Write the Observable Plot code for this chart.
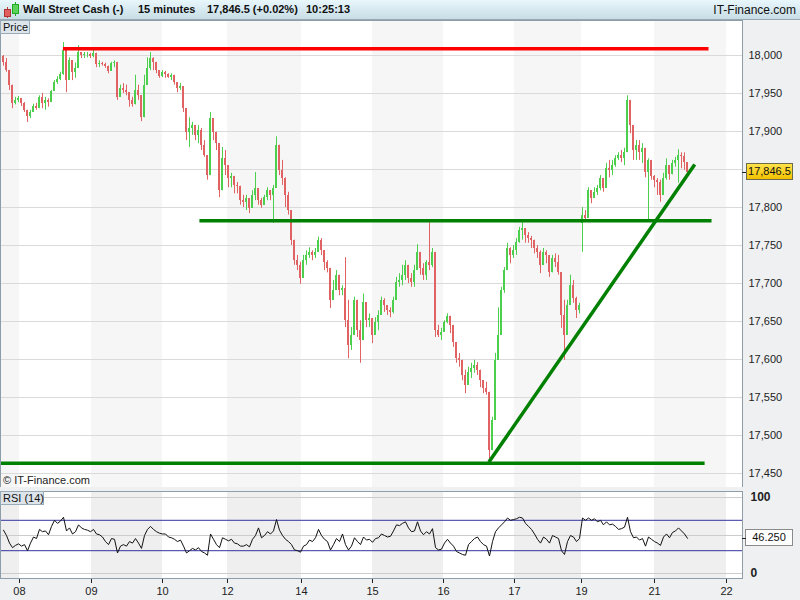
<!DOCTYPE html>
<html><head><meta charset="utf-8">
<script src="https://cdn.jsdelivr.net/npm/d3@7"></script>
<script src="https://cdn.jsdelivr.net/npm/@observablehq/plot@0.6"></script>
<style>
html,body{margin:0;padding:0;}
body{width:800px;height:600px;position:relative;overflow:hidden;background:#eef0f2;font-family:"Liberation Sans",Arial,sans-serif;color:#111;}
#header{position:absolute;left:0;top:0;width:800px;height:19px;background:linear-gradient(#e8f7fc,#c8dde5);border-bottom:1px solid #98a8b2;}
.h{position:absolute;top:3px;font-size:11px;font-weight:bold;white-space:nowrap;color:#111;}
#brand{position:absolute;right:4px;top:3px;font-size:12px;white-space:nowrap;color:#111;}
.panel{position:absolute;left:0;}
.tag{position:absolute;font-size:11px;box-sizing:border-box;white-space:nowrap;}
#priceLabel{left:0;top:20px;width:30px;height:14px;background:#dde5eb;border:1px solid #9aabb8;padding-left:2px;line-height:12px;}
#rsiLabel{left:0;top:491px;width:44px;height:14px;background:#dde5eb;border:1px solid #9aabb8;padding-left:2px;line-height:12px;}
#copy{position:absolute;left:3px;top:474px;font-size:11px;color:#222;}
#lastPrice{left:746px;width:47px;height:17px;background:linear-gradient(#ffe24a,#f2c200);border:1px solid #6b6b4a;text-align:center;line-height:15px;color:#111;}
#lastRsi{left:745px;width:48px;height:17px;background:#fff;border:1px solid #8a8a8a;text-align:center;line-height:15px;color:#111;}
.dash{position:absolute;left:742px;width:4px;height:1px;background:#222;}
</style></head>
<body>
<div id="header">
  <svg style="position:absolute;left:3px;top:1px" width="16" height="18">
    <line x1="4.5" y1="6" x2="4.5" y2="17" stroke="#c33"/><rect x="1.5" y="8.5" width="6" height="7" fill="#e06060" stroke="#a33"/>
    <line x1="12.5" y1="1" x2="12.5" y2="15" stroke="#2a2"/><rect x="9.5" y="3.5" width="6" height="9" fill="#5bd25b" stroke="#2a2"/>
  </svg>
  <span class="h" id="t1" style="left:23px"></span>
  <span class="h" id="t2" style="left:138px"></span>
  <span class="h" id="t3" style="left:207px"></span>
  <span class="h" id="t4" style="left:306px"></span>
  <span id="brand"></span>
</div>
<div class="panel" id="pricePanel" style="top:20px"></div>
<div class="panel" id="rsiPanel" style="top:488px"></div>
<div class="tag" id="priceLabel">Price</div>
<div class="tag" id="rsiLabel">RSI (14)</div>
<div id="copy">© IT-Finance.com</div>
<div class="tag" id="lastPrice"></div>
<div class="dash" id="dashPrice"></div>
<div class="tag" id="lastRsi"></div>
<div class="dash" id="dashRsi"></div>
<script>
// ---- header texts ----
const instrument = "Wall Street Cash (-)";
const period = "15 minutes";
const quote = "17,846.5 (+0.02%)";
const clock = "10:25:13";
const brand = "IT-Finance.com";

// ---- price candles (15-minute bars) ----
const firstOpen = 17999;
const closes = [
17991,17980,17961,17937,17941,17943,17937,17928,17920,17925,
17933,17930,17945,17937,17941,17938,17953,17964,17968,17975,
18007,17967,17993,17978,17983,18004,18000,18001,18001,17999,
18003,17988,17990,17988,17986,17979,17990,17991,17945,17957,
17954,17951,17941,17936,17954,17947,17918,17961,17983,17996,
17991,17980,17972,17978,17975,17971,17974,17964,17957,17959,
17930,17899,17904,17908,17895,17901,17882,17868,17842,17917,
17899,17884,17822,17864,17855,17838,17841,17829,17828,17809,
17807,17812,17799,17816,17825,17809,17803,17813,17822,17816,
17825,17882,17849,17838,17816,17796,17757,17730,17724,17707,
17730,17737,17741,17737,17741,17757,17743,17728,17720,17678,
17691,17711,17691,17693,17651,17618,17632,17678,17638,17625,
17675,17651,17654,17632,17649,17658,17678,17671,17664,17662,
17678,17701,17704,17711,17724,17707,17701,17717,17741,17720,
17711,17728,17724,17741,17638,17632,17636,17649,17657,17645,
17622,17601,17599,17579,17566,17583,17588,17592,17586,17572,
17562,17557,17480,17520,17599,17632,17691,17717,17746,17737,
17743,17754,17770,17772,17763,17759,17757,17746,17741,17724,
17741,17737,17714,17733,17728,17714,17658,17632,17671,17697,
17680,17664,17671,17789,17786,17822,17812,17820,17825,17838,
17825,17851,17849,17855,17864,17868,17864,17872,17941,17908,
17875,17882,17872,17878,17846,17862,17841,17836,17833,17816,
17838,17855,17843,17858,17862,17868,17867,17859,17846.5];
const highs = [
18000,17996,17980,17961,17945,17946,17943,17938,17928,17928,
17936,17937,17947,17950,17945,17943,17954,17967,17972,17978,
18017,18007,17997,17993,17990,18013,18004,18004,18004,18003,
18009,18003,17993,17991,17990,17986,17991,17993,17991,17961,
17963,17961,17951,17945,17974,17961,17947,17974,17997,18004,
17997,17991,17980,17980,17979,17976,17976,17974,17964,17963,
17959,17930,17918,17912,17908,17908,17904,17888,17868,17925,
17917,17899,17884,17879,17875,17855,17845,17841,17833,17828,
17816,17816,17812,17822,17846,17825,17812,17816,17826,17822,
17829,17893,17882,17862,17839,17820,17796,17757,17737,17728,
17737,17743,17747,17743,17746,17761,17759,17743,17730,17720,
17704,17717,17711,17697,17734,17678,17642,17682,17678,17651,
17686,17675,17660,17654,17655,17664,17682,17680,17671,17668,
17682,17708,17713,17724,17730,17724,17713,17724,17751,17741,
17726,17730,17780,17746,17741,17645,17641,17651,17660,17657,
17645,17622,17608,17599,17586,17590,17595,17599,17596,17586,
17572,17570,17557,17524,17608,17668,17695,17721,17753,17747,
17750,17759,17774,17780,17772,17767,17762,17757,17750,17743,
17746,17743,17737,17737,17739,17737,17714,17678,17678,17711,
17704,17682,17674,17800,17796,17826,17822,17826,17829,17842,
17838,17858,17862,17862,17868,17872,17875,17878,17947,17941,
17908,17888,17888,17884,17878,17864,17862,17842,17838,17836,
17845,17864,17855,17862,17866,17876,17872,17872,17859];
const lows = [
17986,17978,17954,17930,17935,17938,17933,17925,17912,17917,
17925,17928,17930,17930,17928,17932,17938,17953,17962,17967,
17974,17951,17967,17967,17970,17983,17996,17996,17997,17996,
17997,17984,17984,17986,17983,17976,17979,17984,17941,17945,
17950,17947,17932,17932,17935,17941,17913,17918,17961,17980,
17980,17976,17970,17971,17970,17970,17967,17961,17951,17954,
17925,17888,17879,17895,17888,17884,17875,17866,17836,17842,
17888,17875,17813,17822,17842,17826,17826,17818,17818,17803,
17800,17796,17792,17799,17809,17803,17799,17803,17809,17809,
17779,17825,17842,17829,17800,17790,17750,17724,17717,17699,
17707,17724,17733,17730,17733,17741,17737,17717,17714,17667,
17678,17691,17684,17684,17642,17601,17612,17632,17629,17595,
17625,17642,17642,17621,17632,17638,17658,17662,17658,17655,
17660,17678,17695,17697,17704,17700,17695,17695,17717,17711,
17704,17704,17717,17721,17629,17629,17625,17636,17647,17634,
17616,17595,17590,17572,17555,17566,17575,17582,17579,17563,
17555,17553,17467,17480,17520,17599,17632,17687,17717,17726,
17733,17737,17753,17757,17753,17753,17746,17739,17733,17713,
17724,17726,17708,17714,17721,17711,17641,17599,17632,17671,
17674,17654,17660,17741,17783,17786,17805,17812,17816,17822,
17820,17825,17839,17842,17853,17862,17859,17855,17872,17897,
17862,17862,17862,17858,17839,17783,17836,17826,17816,17807,
17816,17836,17836,17843,17853,17832,17851,17849,17846];
// bars that opened with a gap (open differs from previous close)
const gapBar = [193];
const gapOpen = [17779];

// ---- RSI (14), one value per bar ----
const rsiValues = [
57,50,40,34,37,39,36,38,30,40,
48,46,58,55,56,51,62,70,66,69,
74,56,60,52,55,64,60,58,57,55,
58,52,51,48,42,38,46,45,27,36,
38,36,42,40,46,40,33,50,58,62,
58,55,53,52,52,48,47,45,42,44,
36,27,30,33,31,34,29,27,24,52,
45,38,34,47,45,43,45,40,39,36,
36,38,35,45,50,60,47,50,55,52,
56,71,57,50,45,42,38,31,30,28,
36,38,44,42,47,58,50,45,42,31,
38,46,42,52,38,31,36,47,42,38,
48,44,45,41,46,47,52,50,48,49,
56,64,63,66,68,60,55,56,68,56,
51,55,52,59,34,31,32,40,45,40,
36,29,27,25,24,38,42,46,48,42,
38,36,23,42,55,60,64,68,73,70,
71,72,74,73,66,62,58,52,45,40,
48,45,40,50,48,46,30,25,42,50,
48,42,46,73,70,73,70,72,68,70,
64,68,64,65,62,58,59,61,74,55,
47,48,44,46,36,48,45,42,40,37,
48,52,47,54,56,60,56,52,46.25];
const rsiLevels = [30, 70];
const rsiGrid = [0, 50, 100];
const rsiAxisTicks = [0, 100];

// ---- time axis: bar index where each day starts ----
const dayLabels = ["08","09","10","12","14","15","16","17","19","21","22"];
const dayStartBar = [5.33, 29.33, 53, 74.67, 99.33, 123, 146.67, 170.33, 192.67, 217, 241];

// ---- price axis (17,850 label is hidden by the last-price tag) ----
const priceGridTicks = [17450,17500,17550,17600,17650,17700,17750,17800,17850,17900,17950,18000];
const priceLabelTicks = [17450,17500,17550,17600,17650,17700,17750,17800,17900,17950,18000];

// ---- drawn trend lines (bar index, price) ----
const trendType      = ["resistance","support","support","trend"];
const trendFromBar   = [19.8, 65.3, -1, 161.8];
const trendFromPrice = [18009, 17782.5, 17463.6, 17465];
const trendToBar     = [235, 236, 233.7, 230.4];
const trendToPrice   = [18009, 17782.5, 17463.6, 17856.6];

// ================= build =================
document.getElementById("t1").textContent = instrument;
document.getElementById("t2").textContent = period;
document.getElementById("t3").textContent = quote;
document.getElementById("t4").textContent = clock;
document.getElementById("brand").textContent = brand;

const X_DOMAIN = [-1, 246.33];
const PRICE_DOMAIN = [17431.6, 18046.05];
const RSI_DOMAIN = [-6.58, 107.89];
const GREEN = "#4ccf4c", RED = "#e06262";
const FONT = "'Liberation Sans', Arial, sans-serif";

const gapMap = new Map(gapBar.map((b, k) => [b, gapOpen[k]]));
const bars = closes.map((c, i) => ({
  i,
  open: gapMap.has(i) ? gapMap.get(i) : (i ? closes[i - 1] : firstOpen),
  close: c, high: highs[i], low: lows[i]
}));
const up = d => d.close >= d.open;
const edges = [X_DOMAIN[0], ...dayStartBar, X_DOMAIN[1]];
const bands = d3.pairs(edges).map(([a, b], k) => ({a, b, shade: k % 2 === 0}));
const trends = trendType.map((t, k) => ({type: t, x1: trendFromBar[k], y1: trendFromPrice[k], x2: trendToBar[k], y2: trendToPrice[k]}));

const priceChart = Plot.plot({
  width: 800, height: 467, marginLeft: 0, marginRight: 58, marginTop: 0, marginBottom: 0,
  x: {domain: X_DOMAIN, axis: null},
  y: {domain: PRICE_DOMAIN, axis: null},
  color: {type: "identity"},
  style: {background: "transparent", fontFamily: FONT, color: "#222"},
  marks: [
    Plot.rect(bands, {x1: "a", x2: "b", y1: PRICE_DOMAIN[0], y2: PRICE_DOMAIN[1], fill: d => d.shade ? "#f6f6f6" : "#ffffff"}),
    Plot.gridY(priceGridTicks, {stroke: "#dadada", strokeOpacity: 1}),
    Plot.ruleX(bars, {x: "i", y1: "low", y2: "high", stroke: d => up(d) ? GREEN : RED, strokeWidth: 1}),
    Plot.rect(bars, {x1: d => d.i - 0.34, x2: d => d.i + 0.34, y1: "open", y2: "close", fill: d => up(d) ? GREEN : RED, shapeRendering: "crispEdges"}),
    Plot.link(trends, {x1: "x1", y1: "y1", x2: "x2", y2: "y2", stroke: d => d.type === "resistance" ? "#ff0000" : "#008000", strokeWidth: 3.5}),
    Plot.axisY(priceLabelTicks, {anchor: "right", tickSize: 0, tickPadding: 6, tickFormat: d3.format(","), fontSize: 11, fill: "#222"}),
    Plot.frame({stroke: "#8d9daa"})
  ]
});
document.getElementById("pricePanel").appendChild(priceChart);

const rsiChart = Plot.plot({
  width: 800, height: 112, marginLeft: 0, marginRight: 58, marginTop: 3, marginBottom: 22,
  x: {domain: X_DOMAIN, axis: null},
  y: {domain: RSI_DOMAIN, axis: null},
  color: {type: "identity"},
  style: {background: "transparent", fontFamily: FONT, color: "#222"},
  marks: [
    Plot.rect(bands, {x1: "a", x2: "b", y1: RSI_DOMAIN[0], y2: RSI_DOMAIN[1], fill: d => d.shade ? "#efefef" : "#ffffff"}),
    Plot.gridY(rsiGrid, {stroke: "#cccccc", strokeOpacity: 1}),
    Plot.ruleY(rsiLevels, {stroke: "#3434a0", strokeWidth: 1}),
    Plot.line(rsiValues, {x: (d, i) => i, y: d => d, stroke: "#111", strokeWidth: 1}),
    Plot.axisY(rsiAxisTicks, {anchor: "right", tickSize: 0, tickPadding: 8, fontSize: 12, fontWeight: "bold", fill: "#222"}),
    Plot.axisX(dayStartBar, {anchor: "bottom", tickSize: 5, tickPadding: 4, fontSize: 11, fill: "#222", tickFormat: d => dayLabels[dayStartBar.indexOf(d)]}),
    Plot.frame({stroke: "#8d9daa"})
  ]
});
document.getElementById("rsiPanel").appendChild(rsiChart);

// current value tags on the right axes
const lastClose = closes[closes.length - 1];
const py = 20 + priceChart.scale("y").apply(lastClose);
const lp = document.getElementById("lastPrice");
lp.textContent = d3.format(",.1f")(lastClose);
lp.style.top = (py - 8.5) + "px";
document.getElementById("dashPrice").style.top = Math.round(py) + "px";

const lastR = rsiValues[rsiValues.length - 1];
const ry = 488 + rsiChart.scale("y").apply(lastR);
const lr = document.getElementById("lastRsi");
lr.textContent = d3.format(".3f")(lastR);
lr.style.top = (ry - 8.5) + "px";
document.getElementById("dashRsi").style.top = Math.round(ry) + "px";
</script>
</body></html>
